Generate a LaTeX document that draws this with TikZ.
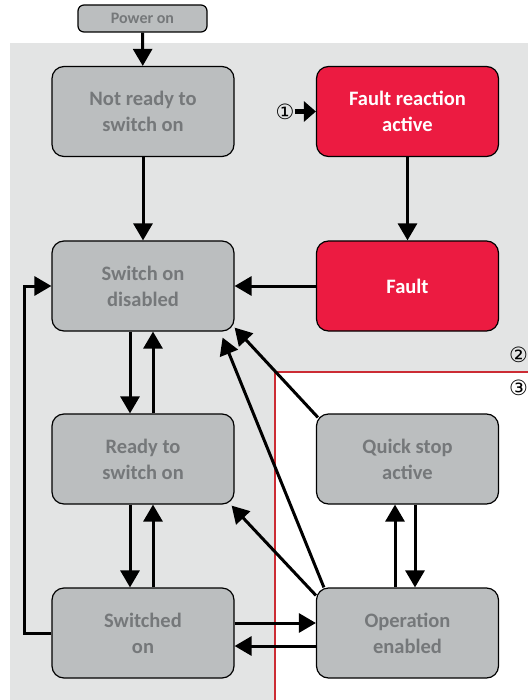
\documentclass[tikz,border=0pt]{standalone}
\usepackage{fontspec}
\setmainfont{Carlito}
\newfontfamily\symfont{DejaVu Sans}
\usetikzlibrary{arrows.meta,calc}
\definecolor{bggray}{RGB}{227,228,228}
\definecolor{stategray}{RGB}{187,190,191}
\definecolor{statetext}{RGB}{117,120,122}
\definecolor{faultred}{RGB}{236,27,65}
\definecolor{framered}{RGB}{204,44,52}
\tikzset{
  state/.style={draw=black, fill=stategray, rounded corners=12pt, align=center,
    minimum width=182pt, minimum height=90pt, inner sep=0pt, text=statetext,
    font=\fontsize{20.5}{26}\selectfont\bfseries, line width=1.2pt},
  fstate/.style={state, fill=faultred, text=white},
  pstate/.style={state, rounded corners=6pt, minimum width=129pt, minimum height=27pt,
    font=\fontsize{16}{17}\selectfont\bfseries},
  marker/.style={inner sep=0pt, font=\symfont\fontsize{21}{21}\selectfont},
  flow/.style={-{Triangle[length=17pt,width=19pt]}, line width=3pt},
  inflow/.style={-{Triangle[length=12pt,width=20pt]}, line width=5pt},
}
\begin{document}
\begin{tikzpicture}[x=1pt, y=-1pt]
  \useasboundingbox (0,0) rectangle (528,700);
  % areas
  \fill[bggray] (10,43) rectangle (528,700);
  \fill[white] (275,372) rectangle (528,700);
  \draw[framered, line width=2.5pt] (275,700) -- (275,372) -- (528,372);
  % states
  \node[pstate] (pwr) at (142.5,18.5) {Power on};
  \node[state] (nrdy) at (143,111.5) {Not ready to\\switch on};
  \node[fstate] (fra) at (407.5,111.5) {Fault reaction\\active};
  \node[state] (sod) at (143,286) {Switch on\\disabled};
  \node[fstate] (flt) at (407.5,286) {Fault};
  \node[state] (rdy) at (143,459) {Ready to\\switch on};
  \node[state] (qsa) at (407.5,459) {Quick stop\\active};
  \node[state] (swo) at (143,633) {Switched\\on};
  \node[state] (oen) at (407.5,633) {Operation\\enabled};
  % markers
  \node[marker] (m1) at (285,111.5) {①};
  \node[marker] (m2) at (518.5,355) {②};
  \node[marker] (m3) at (518.5,388) {③};
  % transitions
  \draw[flow] (pwr) -- (nrdy);
  \draw[flow] (nrdy) -- (sod);
  \draw[flow] (fra) -- (flt);
  \draw[flow] (flt) -- (sod);
  \draw[inflow] (m1) -- (fra.west);
  \draw[flow] ([xshift=-13pt]sod.south) -- ([xshift=-13pt]rdy.north);
  \draw[flow] ([xshift=10pt]rdy.north) -- ([xshift=10pt]sod.south);
  \draw[flow] ([xshift=-13pt]rdy.south) -- ([xshift=-13pt]swo.north);
  \draw[flow] ([xshift=10pt]swo.north) -- ([xshift=10pt]rdy.south);
  \draw[flow] (swo.west) -- ++(-27,0) |- (sod.west);
  \draw[flow] ([yshift=10pt]swo.east) -- ([yshift=10pt]oen.west);
  \draw[flow] ([yshift=-13pt]oen.west) -- ([yshift=-13pt]swo.east);
  \draw[flow] ([xshift=-12.5pt]oen.north) -- ([xshift=-12.5pt]qsa.south);
  \draw[flow] ([xshift=7.5pt]qsa.south) -- ([xshift=7.5pt]oen.north);
  \draw[flow] ([shift={(2pt,-4pt)}]qsa.north west) -- ([yshift=4pt]sod.south east);
  \draw[flow] ([xshift=8pt]oen.north west) -- ([shift={(-12pt,-6pt)}]sod.south east);
  \draw[flow] ([yshift=-8pt]oen.north west) -- ([shift={(-3pt,-1pt)}]rdy.south east);
\end{tikzpicture}
\end{document}
